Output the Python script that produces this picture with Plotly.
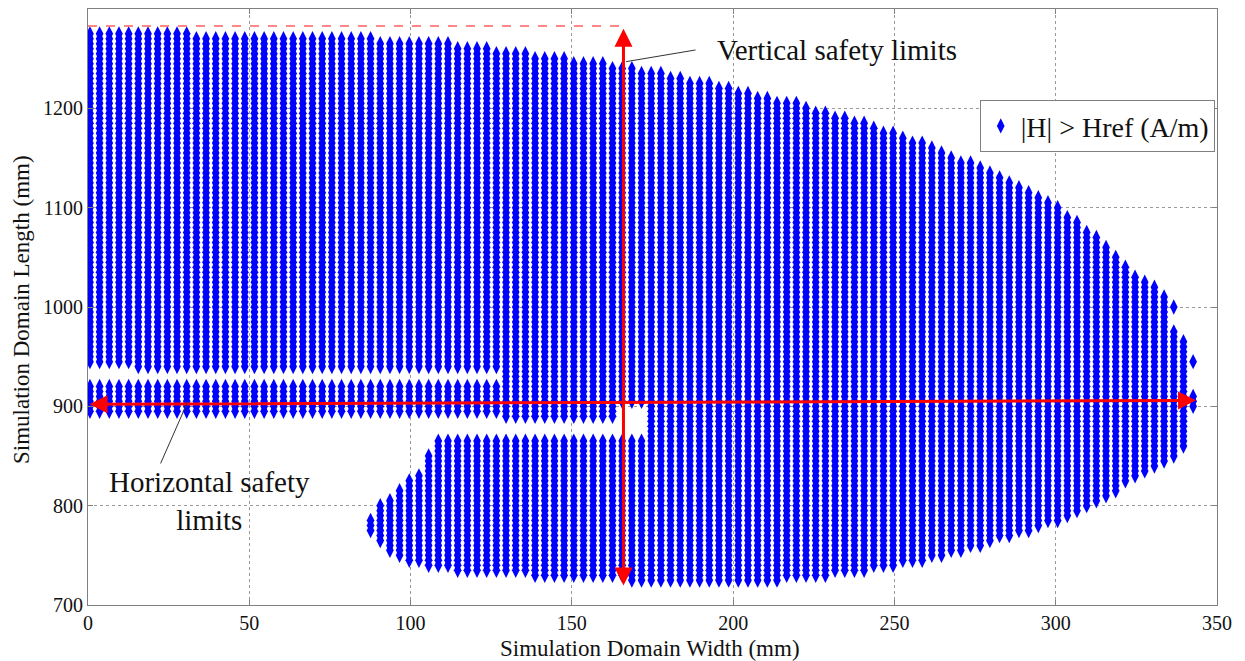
import numpy as np
import plotly.graph_objects as go

# ---------------- data ----------------
# simulation mesh
GRID_X0, GRID_DX, GRID_NX = 0.6, 3.0, 115
GRID_Y0, GRID_DY, GRID_NY = 720.0, 5.0, 113

# boundary (mesh-node centres) of the region where |H| > Href (mm)
OUTER_X = [-1, 15, 16, 81, 112, 143, 166, 190, 221, 252, 283, 300, 314, 326, 335, 335, 338, 338,
           341, 341, 344, 344, 341, 341, 338, 332, 326, 320, 312, 300, 275, 250, 221, 200, 174,
           152, 128, 107, 107, 104, 104, 98, 98, 95, 95, 92, 92, 89, 89, 86, 86, 89, 89, 92, 92,
           95, 95, 98, 98, 101, 101, 104, 104, 107, 107, 173.5, 173.5, 165, 165, 128, 128, -1]
OUTER_Y = [1279, 1279, 1276, 1272, 1265, 1253, 1243, 1227, 1204, 1174, 1134, 1104, 1068, 1029,
           1012, 980, 980, 967, 967, 914, 914, 896, 896, 859, 851, 842, 832, 816, 803, 783, 758,
           738, 726, 722, 724, 727, 732, 736, 740, 740, 743, 743, 746, 746, 752, 752, 765, 765,
           774, 774, 786, 786, 804, 804, 807, 807, 816, 816, 828, 828, 833, 833, 851, 851, 866,
           866, 904, 904, 887, 887, 894, 894]

# empty strips inside the upper band
GAP_X0 = [-1, -1]
GAP_X1 = [128, 15]
GAP_Y0 = [923, 923]
GAP_Y1 = [937, 942]

# isolated points
EXTRA_X = [336.6, 342.6]
EXTRA_Y = [1000, 945]

X_TICKS = [0, 50, 100, 150, 200, 250, 300, 350]
Y_TICKS = [700, 800, 900, 1000, 1100, 1200, 1300]

# safety limits
V_LIMIT_X = 166.0
V_LIMIT_Y = [718, 1280]
H_LIMIT_X = [0, 343.5]
H_LIMIT_Y = [902, 906]
TOP_LIMIT_Y = 1283


# ---------------- build points ----------------
def inside(px, py, vx, vy):
    vx = np.asarray(vx, float)
    vy = np.asarray(vy, float)
    res = np.zeros(px.shape, bool)
    j = len(vx) - 1
    for i in range(len(vx)):
        dy = vy[j] - vy[i]
        dy = dy if dy != 0 else 1e-12
        cond = ((vy[i] > py) != (vy[j] > py)) & (px < (vx[j] - vx[i]) * (py - vy[i]) / dy + vx[i])
        res ^= cond
        j = i
    return res


gx = GRID_X0 + GRID_DX * np.arange(GRID_NX)
gy = GRID_Y0 + GRID_DY * np.arange(GRID_NY)
PX, PY = np.meshgrid(gx, gy)
PX, PY = PX.ravel(), PY.ravel()
mask = inside(PX, PY, OUTER_X, OUTER_Y)
for x0, x1, y0, y1 in zip(GAP_X0, GAP_X1, GAP_Y0, GAP_Y1):
    mask &= ~((PX >= x0) & (PX <= x1) & (PY >= y0) & (PY <= y1))
xs = np.concatenate([PX[mask], EXTRA_X])
ys = np.concatenate([PY[mask], EXTRA_Y])

FONT = "Liberation Serif, Times New Roman, serif"
TXT = "#111111"

fig = go.Figure()
fig.add_trace(go.Scatter(
    x=xs, y=ys, mode="markers", name="|H| > Href (A/m)",
    marker=dict(symbol="diamond-tall", size=11, color="#0000ff", line=dict(width=0)),
))
# top dashed limit
fig.add_trace(go.Scatter(
    x=[0, V_LIMIT_X], y=[TOP_LIMIT_Y, TOP_LIMIT_Y], mode="lines", showlegend=False,
    line=dict(color="#ff6060", width=1.5, dash="dash"), hoverinfo="skip",
))

annotations = []
# vertical arrow (double headed)
annotations.append(dict(x=V_LIMIT_X, y=V_LIMIT_Y[1], ax=V_LIMIT_X, ay=V_LIMIT_Y[0],
                        xref="x", yref="y", axref="x", ayref="y", showarrow=True,
                        arrowhead=2, startarrowhead=2, arrowside="end+start",
                        arrowsize=1.2, startarrowsize=1.2, arrowwidth=3, arrowcolor="#ff0000", text=""))
# horizontal arrow
annotations.append(dict(x=H_LIMIT_X[1], y=H_LIMIT_Y[1], ax=H_LIMIT_X[0], ay=H_LIMIT_Y[0],
                        xref="x", yref="y", axref="x", ayref="y", showarrow=True,
                        arrowhead=2, startarrowhead=2, arrowside="end+start",
                        arrowsize=1.2, startarrowsize=1.2, arrowwidth=3, arrowcolor="#ff0000", text=""))
# leader lines
annotations.append(dict(x=166.8, y=1247, ax=188.8, ay=1259, xref="x", yref="y", axref="x", ayref="y",
                        showarrow=True, arrowhead=0, arrowwidth=1, arrowcolor="#333333", text=""))
annotations.append(dict(x=30.7, y=903, ax=22.3, ay=841, xref="x", yref="y", axref="x", ayref="y",
                        showarrow=True, arrowhead=0, arrowwidth=1, arrowcolor="#333333", text=""))
# labels
annotations.append(dict(x=194.4, y=1258.7, xref="x", yref="y", showarrow=False, xanchor="left",
                        yanchor="middle", text="Vertical safety limits",
                        font=dict(family=FONT, size=29, color=TXT)))
annotations.append(dict(x=37.8, y=804.5, xref="x", yref="y", showarrow=False, xanchor="center",
                        yanchor="middle", text="Horizontal safety<br>limits", align="center",
                        font=dict(family=FONT, size=29, color=TXT)))
# axis titles
annotations.append(dict(x=0.498, y=0, xref="paper", yref="paper", yshift=-43, showarrow=False,
                        xanchor="center", yanchor="middle", text="Simulation Domain Width (mm)",
                        font=dict(family=FONT, size=23, color=TXT)))
annotations.append(dict(x=0, y=0.495, xref="paper", yref="paper", xshift=-66, showarrow=False,
                        xanchor="center", yanchor="middle", textangle=-90,
                        text="Simulation Domain Length (mm)",
                        font=dict(family=FONT, size=23, color=TXT)))
fig.update_layout(annotations=annotations)

axis_common = dict(
    showgrid=True, gridcolor="#9a9a9a", griddash="dot", gridwidth=1,
    showline=True, linecolor="#808080", linewidth=1, mirror="ticks",
    ticks="inside", ticklen=5, tickcolor="#808080",
    tickfont=dict(family=FONT, size=20, color=TXT),
    zeroline=False, automargin=False,
)
fig.update_xaxes(range=[0, 350], tickvals=X_TICKS, **axis_common)
fig.update_yaxes(range=[700, 1300], tickvals=Y_TICKS, **axis_common)

# page body adds an 8 px margin, so the figure is 8 px smaller than the window
fig.update_layout(
    width=1237, height=653,
    margin=dict(l=80, r=28, t=1, b=56),
    plot_bgcolor="white", paper_bgcolor="white",
    showlegend=True,
    legend=dict(x=0.998, y=0.847, xanchor="right", yanchor="top",
                bordercolor="#808080", borderwidth=1, bgcolor="white",
                font=dict(family=FONT, size=28, color=TXT), itemsizing="trace",
                tracegroupgap=0),
)

fig.write_html("out.html")
